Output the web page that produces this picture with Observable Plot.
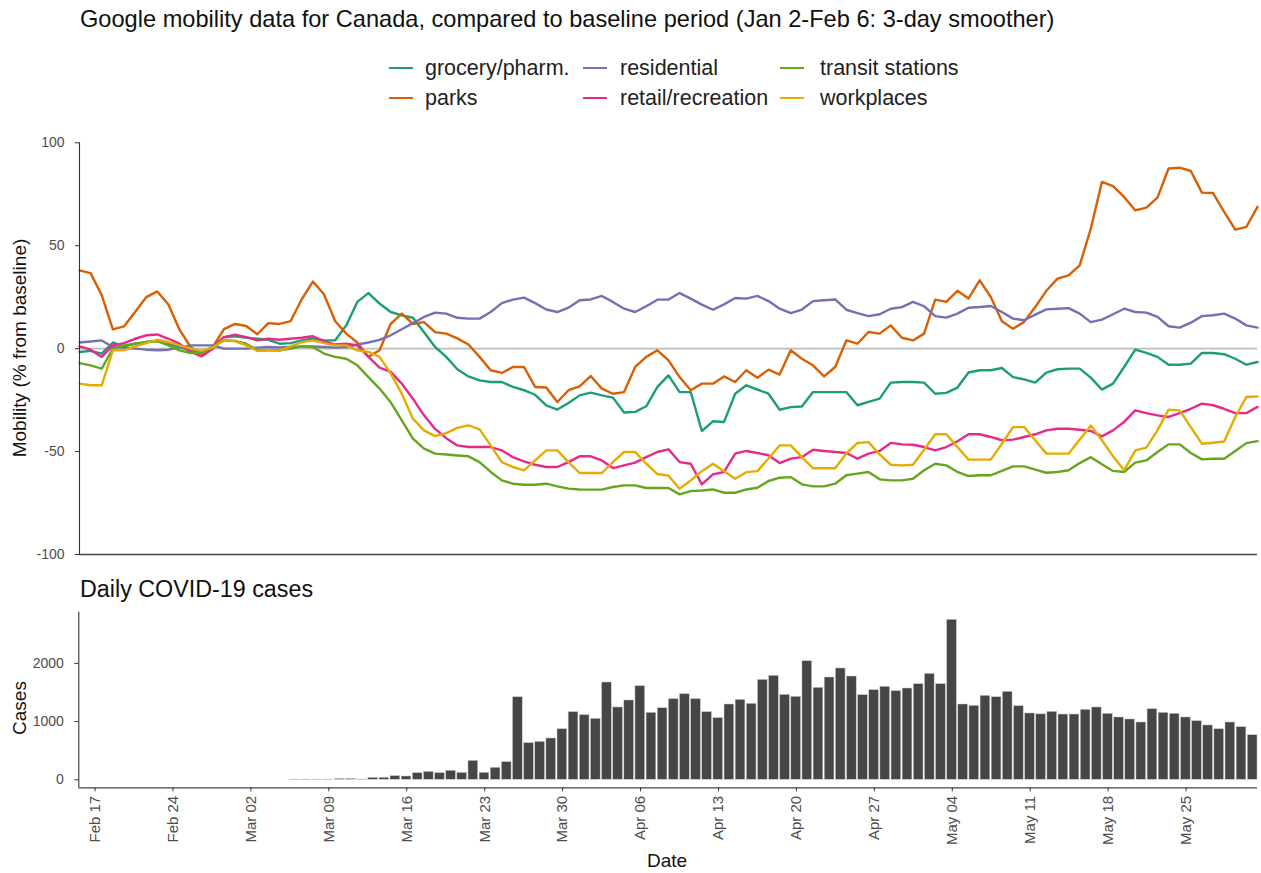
<!DOCTYPE html>
<html><head><meta charset="utf-8">
<script src="https://cdn.jsdelivr.net/npm/d3@7"></script>
<script src="https://cdn.jsdelivr.net/npm/@observablehq/plot@0.6"></script>
<style>
body{margin:0;background:#fff;font-family:"Liberation Sans",Arial,sans-serif;}
#chart{position:relative;width:1261px;height:873px;overflow:hidden;background:#fff;}
.abs{position:absolute;white-space:nowrap;line-height:1;}
.plotbox{position:absolute;left:0;}
</style></head><body><div id="chart"></div>
<script>
// ---- data ----
const seriesNames = ["grocery/pharm.","parks","residential","retail/recreation","transit stations","workplaces"];
const seriesColors = ["#1B9E77","#D95F02","#7570B3","#E7298A","#66A61E","#E6AB02"];
const mobilityStart = "2020-02-15";
const mobilityEnd = "2020-05-31";

const grocery = [-1.6,-1.1,-2.4,3,1,2.4,3.2,3.7,2.4,0.8,-0.8,-1.6,0.8,5.6,6,5.3,4.8,4.3,2.4,2.7,4,4.8,4,4,11.3,22.7,27,21.9,17.8,16.2,15,8,0.8,-4,-10,
-13.5,-15.4,-16.2,-16.2,-18.6,-20.2,-22.4,-27.5,-29.6,-26.4,-22.7,-21.4,-22.7,-23.8,-31,-30.7,-28,-18.6,-13,-21.1,-21.1,-40,-35.3,-35.6,-21.9,-17.8,-19.9,-21.9,-29.7,-28.4,-28.1,-21.1,-21.1,-21.1,-21.1,-27.5,
-25.9,-24.3,-16.5,-16.2,-16.2,-16.5,-21.9,-21.5,-18.9,-11.6,-10.5,-10.5,-9.4,-13.8,-14.9,-16.5,-11.6,-10,-9.7,-9.7,-14.1,-19.9,-17,-8.9,-0.5,-2.1,-4,-7.8,-7.8,-7.3,-2.1,-2.1,-2.7,-4.9,-7.8,-6.5];

const parks = [38,36.7,26,9.4,10.8,17.8,25,27.8,21.4,9.2,0.8,-2.8,0.8,9.5,12,11,7,12.4,12,13.4,24,32.6,26.4,13.4,7.3,3,-4,-0.8,12,17,12,12.9,8,7.3,5,
2,-4,-10.5,-11.8,-8.9,-8.9,-18.6,-18.9,-25.9,-20.2,-18.3,-13.3,-19.4,-21.9,-21.1,-8.9,-4,-0.8,-5.7,-13.8,-20.2,-17,-17,-13.5,-16.2,-10.5,-14.1,-10.2,-12.6,-0.8,-4.9,-8.1,-13.5,-8.9,4,2.4,
8.1,7.3,11.3,5.3,4,7.3,23.8,22.7,28.1,24.4,33.2,25.1,13.3,9.7,13,20.2,28.1,34,35.6,40.5,58.3,81,78.9,73.7,67.2,68.5,73.4,87.5,87.9,86.3,75.8,75.6,66.4,57.8,59.2,68.9];

const residential = [3,3.5,4,0.8,0.5,0,-0.5,-0.8,-0.5,0.5,1.6,1.6,1.6,0,0,0,0.5,0.8,0.6,0.8,1.1,1.1,0.8,0.5,0.8,2,3,4.3,6.5,9.4,12.4,15.4,17.5,17,15,
14.6,14.6,17.8,22.1,23.8,24.8,22.1,19,17.8,19.9,23.5,23.9,25.6,22.7,19.4,17.8,20.6,23.8,23.9,27,24.3,21.4,18.9,21.5,24.6,24.3,25.6,23.1,19.4,17.3,19,23.1,23.5,23.9,18.9,17.3,
15.8,16.7,19.4,20.2,22.7,20.6,15.8,15.1,17,19.9,20.2,20.7,17.8,14.6,13.8,16.5,19.1,19.4,19.7,17,12.9,14.1,16.7,19.4,17.8,17.5,15.4,10.9,10.2,12.6,15.8,16.2,17,14.6,11.3,10.2];

const retail = [1.1,-0.5,-4,1.6,2.7,4.8,6.5,6.9,4.8,2.4,-1.6,-3.7,0,5.6,6.8,5.6,4,4.8,4.3,4.8,5.3,6,3.7,2,2.4,1.6,-4,-9.2,-11.3,-17,-24.3,-32.4,-39,-43.5,-47,
-47.8,-47.8,-47.8,-49.4,-52.7,-54.8,-56.4,-57.5,-57.5,-55.1,-52.3,-52.3,-54.3,-58,-56.7,-55.4,-52.7,-50.2,-48.9,-55.1,-55.9,-65.9,-61.1,-59.9,-51,-49.7,-50.7,-51.8,-55.6,-53.4,-52.7,-49.1,-49.7,-50.2,-50.7,-53.4,
-51,-49.7,-45.8,-46.5,-46.7,-47.8,-49.4,-47.8,-45,-41.6,-41.6,-42.9,-44.5,-44.2,-42.9,-41.6,-39.7,-38.9,-38.9,-39.4,-40,-42.6,-39.7,-35.6,-30,-31.3,-32.4,-33.2,-31.3,-29.2,-26.7,-27.5,-29.2,-31.3,-31.3,-28.3];

const transit = [-7,-8.1,-9.7,0,1.6,2.4,3.2,3.7,1.6,-0.8,-2.1,-2.1,0.8,4,3.7,2.4,-0.8,-0.8,-0.8,0,1.1,0.8,-2.4,-4,-4.9,-8.1,-13.8,-19.4,-26,-34.8,-43.7,-48.6,-51,-51.4,-51.9,
-52.3,-55.1,-59.9,-64,-65.6,-66.1,-66.1,-65.6,-66.9,-68,-68.4,-68.5,-68.5,-67.2,-66.4,-66.4,-67.7,-67.7,-67.7,-70.8,-69.2,-68.9,-68.4,-70,-70,-68.4,-67.6,-64.3,-62.7,-62.4,-65.9,-66.9,-66.9,-65.6,-61.5,-60.7,
-59.9,-63.5,-64,-64,-63.2,-59.1,-55.9,-56.7,-59.9,-61.9,-61.5,-61.5,-59.4,-57.2,-57.2,-58.8,-60.3,-59.9,-59.1,-55.6,-52.7,-56.2,-59.4,-59.9,-55.4,-54.3,-50.2,-46.5,-46.5,-50.7,-53.8,-53.5,-53.5,-49.7,-45.9,-44.9];

const workplaces = [-17,-17.8,-17.8,-0.8,-0.8,1.1,2.7,4.3,3.2,1.6,0,-1.1,0.5,4.3,3.7,1.6,-1.1,-0.8,-1.1,1.1,3.2,4,2.7,1.6,1.6,-0.8,-1.6,-4,-12,-21.9,-34,-39.7,-42.5,-41,-38.5,
-37.3,-39.2,-47,-55.1,-57.5,-59.1,-54.3,-49.4,-49.4,-55.1,-60.4,-60.4,-60.4,-55.1,-50.2,-50.2,-55.9,-60.9,-61.7,-68.1,-64,-59.5,-55.9,-59.5,-63.2,-60,-59.5,-53.4,-47,-47,-52.7,-58.1,-58.1,-58.1,-50.9,-45.8,
-45.4,-51.4,-56.4,-56.7,-56.4,-49.1,-41.6,-41.6,-47.8,-53.9,-53.9,-53.9,-46.2,-38.1,-38.1,-44.5,-51,-51,-51,-44.2,-37.3,-44.5,-52.3,-59.1,-49.4,-48.1,-39.7,-29.6,-30,-38.1,-46.2,-45.7,-45.1,-33.2,-23.5,-23.2];

const casesStart = "2020-03-06";
const cases = [5,5,5,5,15,15,5,34,34,63,57,115,137,115,155,120,326,120,206,304,1420,630,653,710,870,1163,
1111,1048,1672,1243,1363,1609,1151,1231,1386,1472,1386,1163,1060,1294,1374,1306,1718,1787,1460,1426,2039,1581,1758,1913,1775,1455,1541,1598,1523,1569,
1644,1821,1644,2749,1294,1271,1443,1420,1512,1266,1140,1125,1168,1122,1122,1203,1243,1134,1071,1037,985,1214,1151,1134,1071,1008,934,870,985,905,767];

const mobilityTicks = [-100,-50,0,50,100];
const casesTicks = [0,1000,2000];
const dateTickStart = "2020-02-17";
const dateTickEnd = "2020-05-26";

const titleText = "Google mobility data for Canada, compared to baseline period (Jan 2-Feb 6: 3-day smoother)";
const subtitleText = "Daily COVID-19 cases";

// ---- build ----
const FONT = '"Liberation Sans", Arial, sans-serif';
const parse = d3.utcParse("%Y-%m-%d");
const mStart = parse(mobilityStart), mEnd = parse(mobilityEnd);
const allSeries = [grocery, parks, residential, retail, transit, workplaces];
const rows = seriesNames.flatMap((s, k) => allSeries[k].map((v, i) => ({date: d3.utcDay.offset(mStart, i), value: v, series: s})));
const cStart = parse(casesStart);
const caseRows = cases.map((c, i) => ({date: d3.utcDay.offset(cStart, i), cases: c}));
const weekTicks = d3.utcDays(parse(dateTickStart), parse(dateTickEnd)).filter((d, i) => i % 7 === 0);

const chart = document.getElementById("chart");
function addText(txt, css) {
  const d = document.createElement("div");
  d.className = "abs";
  d.textContent = txt;
  Object.assign(d.style, css);
  chart.appendChild(d);
  return d;
}

addText(titleText, {left: "80px", top: "20px", fontSize: "23.6px", color: "#111", transform: "translateY(-50%)"});

// legend
const legendPos = [
  {sx: 389, tx: 425, y: 69}, {sx: 389, tx: 425, y: 99},
  {sx: 583, tx: 620, y: 69}, {sx: 583, tx: 620, y: 99},
  {sx: 780, tx: 820, y: 69}, {sx: 780, tx: 820, y: 99}
];
seriesNames.forEach((s, k) => {
  const p = legendPos[k];
  const sw = document.createElement("div");
  Object.assign(sw.style, {position: "absolute", left: p.sx + "px", top: (p.y - 2.3) + "px", width: "24px", height: "2.6px", background: seriesColors[k]});
  chart.appendChild(sw);
  addText(s, {left: p.tx + "px", top: p.y + "px", fontSize: "21.5px", color: "#222", transform: "translateY(-50%)"});
});

const topPlot = Plot.plot({
  width: 1261, height: 440,
  marginLeft: 79, marginRight: 4, marginTop: 12.3, marginBottom: 16,
  style: {fontFamily: FONT, background: "transparent", overflow: "visible"},
  x: {type: "utc", domain: [mStart, mEnd], axis: null},
  y: {domain: [-100, 100], axis: null},
  color: {domain: seriesNames, range: seriesColors},
  marks: [
    Plot.ruleY([0], {stroke: "#bdbdbd", strokeWidth: 1.6}),
    Plot.line(rows, {x: "date", y: "value", z: "series", stroke: "series", strokeWidth: 2.4}),
    Plot.ruleX([mStart], {stroke: "#333", strokeWidth: 1.1}),
    Plot.ruleY([-100], {stroke: "#444", strokeWidth: 1.3}),
    Plot.axisY({ticks: mobilityTicks, tickFormat: d => String(d), tickSize: 4, tickPadding: 11, label: null, fill: "#4d4d4d", stroke: "#333", fontSize: 14})
  ]
});
topPlot.classList.add("plotbox");
topPlot.style.top = "130px";
chart.appendChild(topPlot);

addText(subtitleText, {left: "80px", top: "590px", fontSize: "23.3px", color: "#111", transform: "translateY(-50%)"});

const bx0 = d3.utcHour.offset(mStart, 13.2);
const bx1 = d3.utcHour.offset(mEnd, 10.8);
const botPlot = Plot.plot({
  width: 1261, height: 273,
  marginLeft: 78.3, marginRight: 4, marginTop: 11.7, marginBottom: 85.7,
  style: {fontFamily: FONT, background: "transparent", overflow: "visible"},
  x: {type: "utc", domain: [bx0, bx1], axis: null},
  y: {domain: [-137.5, 2880], axis: null},
  marks: [
    Plot.rect(caseRows, {x1: d => d3.utcHour.offset(d.date, -10.8), x2: d => d3.utcHour.offset(d.date, 10.8), y1: 0, y2: "cases", fill: "#464646", stroke: "#cfcfcf", strokeWidth: 0.5}),
    Plot.ruleX([bx0], {stroke: "#333", strokeWidth: 1.1}),
    Plot.ruleY([-137.5], {stroke: "#444", strokeWidth: 1.3}),
    Plot.axisY({ticks: casesTicks, tickFormat: d => String(d), tickSize: 4, tickPadding: 11, label: null, fill: "#4d4d4d", stroke: "#333", fontSize: 14}),
    Plot.axisX({ticks: weekTicks, tickFormat: d3.utcFormat("%b %d"), tickRotate: -90, tickSize: 4, tickPadding: 4, label: null, fill: "#4d4d4d", stroke: "#333", fontSize: 15})
  ]
});
botPlot.classList.add("plotbox");
botPlot.style.top = "600px";
chart.appendChild(botPlot);

// axis titles
addText("Mobility (% from baseline)", {left: "19px", top: "348px", fontSize: "19px", color: "#111", transform: "translate(-50%,-50%) rotate(-90deg)"});
addText("Cases", {left: "19px", top: "708px", fontSize: "19px", color: "#111", transform: "translate(-50%,-50%) rotate(-90deg)"});
addText("Date", {left: "667px", top: "860px", fontSize: "19px", color: "#111", transform: "translate(-50%,-50%)"});
</script></body></html>
